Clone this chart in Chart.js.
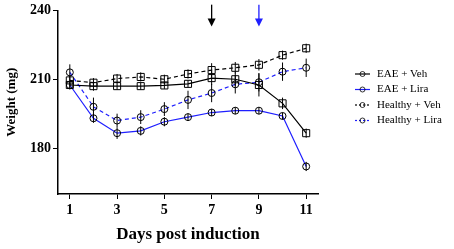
<!DOCTYPE html>
<html>
<head>
<meta charset="utf-8">
<script src="https://cdn.jsdelivr.net/npm/chart.js@4"></script>
<style>
  html, body { margin: 0; padding: 0; background: #fff; }
</style>
</head>
<body>
<canvas id="weight-chart" width="454" height="249"></canvas>
<script>
const days = [1, 2, 3, 4, 5, 6, 7, 8, 9, 10, 11];
const seriesNames = ['EAE + Veh', 'EAE + Lira', 'Healthy + Veh', 'Healthy + Lira'];
const eaeVeh = [207.5, 207, 207, 207, 207.3, 208, 210.5, 210, 207.5, 199.5, 186.5];
const eaeLira = [207.5, 193, 186.5, 187.5, 191.5, 193.5, 195.5, 196.3, 196.3, 194, 172];
const healthyVeh = [209.5, 208.5, 210.3, 211, 210, 212.3, 214, 215, 216.3, 220.5, 223.5];
const healthyLira = [213, 198, 192, 193.5, 197, 201, 204, 207.8, 208.7, 213.3, 215];
const eaeVehErr = [1.5, 2, 1.5, 1.5, 1.5, 1.5, 3, 3, 5, 2.5, 2];
const eaeLiraErr = [2, 2, 2.5, 2, 2, 1.5, 1.5, 1.5, 1.5, 1.5, 2];
const healthyVehErr = [2, 2, 2, 2, 2, 2, 3, 2.5, 2.5, 2, 2];
const healthyLiraErr = [3.5, 4, 3, 3, 3, 4, 4, 4, 4, 4, 4];
const xTicks = [1, 3, 5, 7, 9, 11];
const yTicks = [180, 210, 240];
const arrowDays = [7, 9];

const blue = '#1f1fff';
const serif = "'Liberation Serif', 'DejaVu Serif', serif";

function series(label, values, errs, color, dashed, shape, radius) {
  return {
    label: label,
    data: days.map((d, i) => ({ x: d, y: values[i] })),
    errs: errs,
    borderColor: color,
    borderWidth: 1.2,
    borderDash: dashed ? [4, 3] : [],
    pointStyle: shape,
    pointRadius: radius,
    pointBorderColor: '#000',
    pointBorderWidth: 1,
    pointBackgroundColor: 'rgba(0,0,0,0)',
    tension: 0,
  };
}

// vertical error bars, drawn in black through each marker
const errorBars = {
  id: 'errorBars',
  afterDatasetsDraw(chart) {
    const ctx = chart.ctx;
    const ys = chart.scales.y;
    ctx.save();
    ctx.strokeStyle = '#000';
    ctx.lineWidth = 1;
    chart.data.datasets.forEach((ds, di) => {
      const meta = chart.getDatasetMeta(di);
      meta.data.forEach((pt, i) => {
        const v = ds.data[i].y;
        const e = ds.errs[i];
        ctx.beginPath();
        ctx.moveTo(pt.x, ys.getPixelForValue(v + e));
        ctx.lineTo(pt.x, ys.getPixelForValue(v - e));
        ctx.stroke();
      });
    });
    ctx.restore();
  },
};

// treatment arrows above the plot
const arrows = {
  id: 'arrows',
  afterDraw(chart) {
    const ctx = chart.ctx;
    const xs = chart.scales.x;
    const ys = chart.scales.y;
    const colors = ['#000', blue];
    ctx.save();
    arrowDays.forEach((d, i) => {
      const x = xs.getPixelForValue(d);
      const top = ys.getPixelForValue(242.5);
      const tip = ys.getPixelForValue(233);
      ctx.strokeStyle = colors[i];
      ctx.fillStyle = colors[i];
      ctx.lineWidth = 1.3;
      ctx.beginPath();
      ctx.moveTo(x, top);
      ctx.lineTo(x, tip - 6);
      ctx.stroke();
      ctx.beginPath();
      ctx.moveTo(x - 4, tip - 8);
      ctx.lineTo(x + 4, tip - 8);
      ctx.lineTo(x, tip);
      ctx.closePath();
      ctx.fill();
    });
    ctx.restore();
  },
};

// legend: short line with a small circle marker, then the label
const sideLegend = {
  id: 'sideLegend',
  afterDraw(chart) {
    const ctx = chart.ctx;
    ctx.save();
    ctx.font = '11px ' + serif;
    ctx.textBaseline = 'middle';
    chart.data.datasets.forEach((ds, i) => {
      const y = 74 + i * 15.5;
      ctx.strokeStyle = ds.borderColor;
      ctx.lineWidth = 1.2;
      ctx.setLineDash(ds.borderDash.length ? [2, 2] : []);
      ctx.beginPath();
      ctx.moveTo(355, y);
      ctx.lineTo(370, y);
      ctx.stroke();
      ctx.setLineDash([]);
      ctx.strokeStyle = '#000';
      ctx.lineWidth = 0.8;
      ctx.beginPath();
      ctx.arc(362.5, y, 2.5, 0, Math.PI * 2);
      ctx.stroke();
      ctx.fillStyle = '#000';
      ctx.fillText(ds.label, 377, y);
    });
    ctx.restore();
  },
};

new Chart(document.getElementById('weight-chart').getContext('2d'), {
  type: 'line',
  data: {
    datasets: [
      series(seriesNames[0], eaeVeh, eaeVehErr, '#000', false, 'rect', 5),
      series(seriesNames[1], eaeLira, eaeLiraErr, blue, false, 'circle', 3.5),
      series(seriesNames[2], healthyVeh, healthyVehErr, '#000', true, 'rect', 5),
      series(seriesNames[3], healthyLira, healthyLiraErr, blue, true, 'circle', 3.5),
    ],
  },
  options: {
    responsive: false,
    animation: false,
    layout: {
      padding: { left: 0, top: 8, right: 136, bottom: 0 },
    },
    plugins: {
      legend: { display: false },
      tooltip: { enabled: false },
    },
    scales: {
      x: {
        type: 'linear',
        min: 0.5,
        max: 11.5,
        afterBuildTicks: (s) => { s.ticks = xTicks.map((v) => ({ value: v })); },
        afterFit: (s) => { s.height = 55; },
        grid: { drawOnChartArea: false, tickLength: 5, color: '#000', lineWidth: 1 },
        border: { display: true, color: '#000', width: 1.5 },
        ticks: {
          color: '#000',
          padding: 3,
          maxRotation: 0,
          font: { family: serif, size: 14, weight: 'bold' },
        },
        title: {
          display: true,
          text: 'Days post induction',
          color: '#000',
          padding: { top: 15 },
          font: { family: serif, size: 17, weight: 'bold' },
        },
      },
      y: {
        min: 160,
        max: 240,
        afterBuildTicks: (s) => { s.ticks = yTicks.map((v) => ({ value: v })); },
        afterFit: (s) => { s.width = 58; },
        grid: { drawOnChartArea: false, tickLength: 5, color: '#000', lineWidth: 1 },
        border: { display: true, color: '#000', width: 1.5 },
        ticks: {
          color: '#000',
          padding: 2,
          font: { family: serif, size: 14, weight: 'bold' },
        },
        title: {
          display: true,
          text: 'Weight (mg)',
          color: '#000',
          padding: { bottom: 0 },
          font: { family: serif, size: 13, weight: 'bold' },
        },
      },
    },
  },
  plugins: [errorBars, arrows, sideLegend],
});
</script>
</body>
</html>
